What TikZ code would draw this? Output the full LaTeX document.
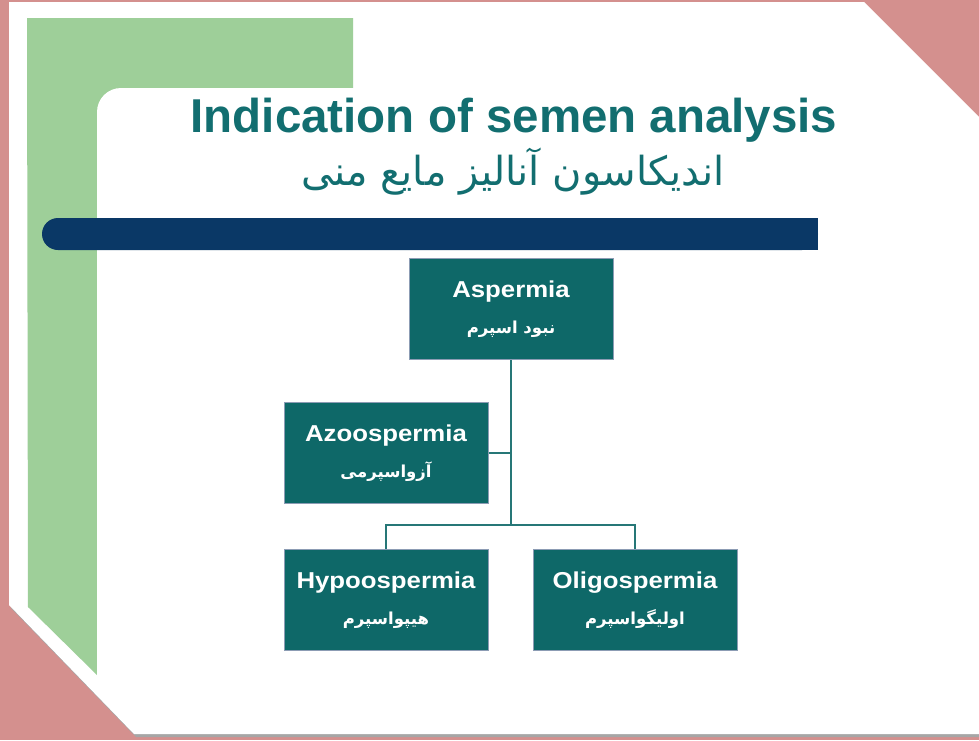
\documentclass[tikz,border=0pt]{standalone}
\usepackage{fontspec}
\setmainfont{Liberation Sans}
\newfontfamily\boxfont[FakeStretch=1.12]{Liberation Sans}
\newfontfamily\arabicfont[Script=Arabic]{DejaVu Sans}
\TeXXeTstate=1
\usepackage{tikz}
\usetikzlibrary{shapes, arrows, positioning}
\definecolor{slidepink}{RGB}{212,144,142}
\definecolor{slidegreen}{RGB}{158,207,153}
\definecolor{barnavy}{RGB}{10,56,102}
\definecolor{boxteal}{RGB}{14,104,104}
\definecolor{boxedge}{RGB}{140,156,180}
\definecolor{headteal}{RGB}{18,110,112}
\tikzstyle{block} = [draw=boxedge, fill=boxteal, rectangle, line width=1pt, minimum height=101pt, minimum width=204pt, text=white, align=center, inner sep=0pt, font=\boxfont\bfseries\fontsize{23}{36}\selectfont]
\tikzstyle{link} = [draw=boxteal!90!white, line width=1.6pt]
\tikzstyle{headline} = [text=headteal, inner sep=0pt, anchor=base]
\newcommand{\fa}[1]{{\arabicfont\bfseries\fontsize{16.5}{36}\selectfont\beginR #1\endR}}

\begin{document}
\begin{tikzpicture}[x=1pt, y=-1pt, node distance=44pt]
    % slide background first
    \useasboundingbox (0,0) rectangle (979,740);
    \fill[slidepink] (0,0) rectangle (979,740);
    \fill[gray!70] (11,5) -- (866,5) -- (981,120) -- (981,737) -- (136,737) -- (11,608) -- cycle;
    \fill[white] (9,2) -- (864,2) -- (979,117) -- (979,734) -- (134,734) -- (9,605) -- cycle;
    \fill[slidegreen] (27,18) -- (353,18) -- (353,675) -- (97,675) -- (28,607) -- cycle;
    \fill[white] (97,680) [rounded corners=24pt] -- (97,88) -- (380,88) [sharp corners] -- (380,680) -- cycle;
    \fill[barnavy, rounded corners=16pt] (42,218) rectangle (818,250);
    \fill[barnavy] (790,218) rectangle (818,250);

    % title
    \node [headline, font=\bfseries\fontsize{47.5}{50}\selectfont] (title) at (514,132) {Indication of semen analysis};
    \node [headline, font=\arabicfont\fontsize{40}{44}\selectfont] (subtitle) at (513,185) {\beginR اندیکاسون آنالیز مایع منی\endR};

    % We start by placing the blocks
    \node [block] (asp) at (511,309) {Aspermia\\\fa{نبود اسپرم}};
    \node [block, below left=42pt and -80pt of asp] (azoo) {Azoospermia\\\fa{آزواسپرمی}};
    \node [block, below=45pt of azoo] (hypo) {Hypoospermia\\\fa{هیپواسپرم}};
    \node [block, right=of hypo] (oligo) {Oligospermia\\\fa{اولیگواسپرم}};
    \coordinate [below=165pt of asp.south] (fork);

    \draw[link] (asp) -- (fork);
    \draw[link] (azoo) -- (azoo -| fork);
    \draw[link] (hypo) |- (fork) -| (oligo);
\end{tikzpicture}
\end{document}
